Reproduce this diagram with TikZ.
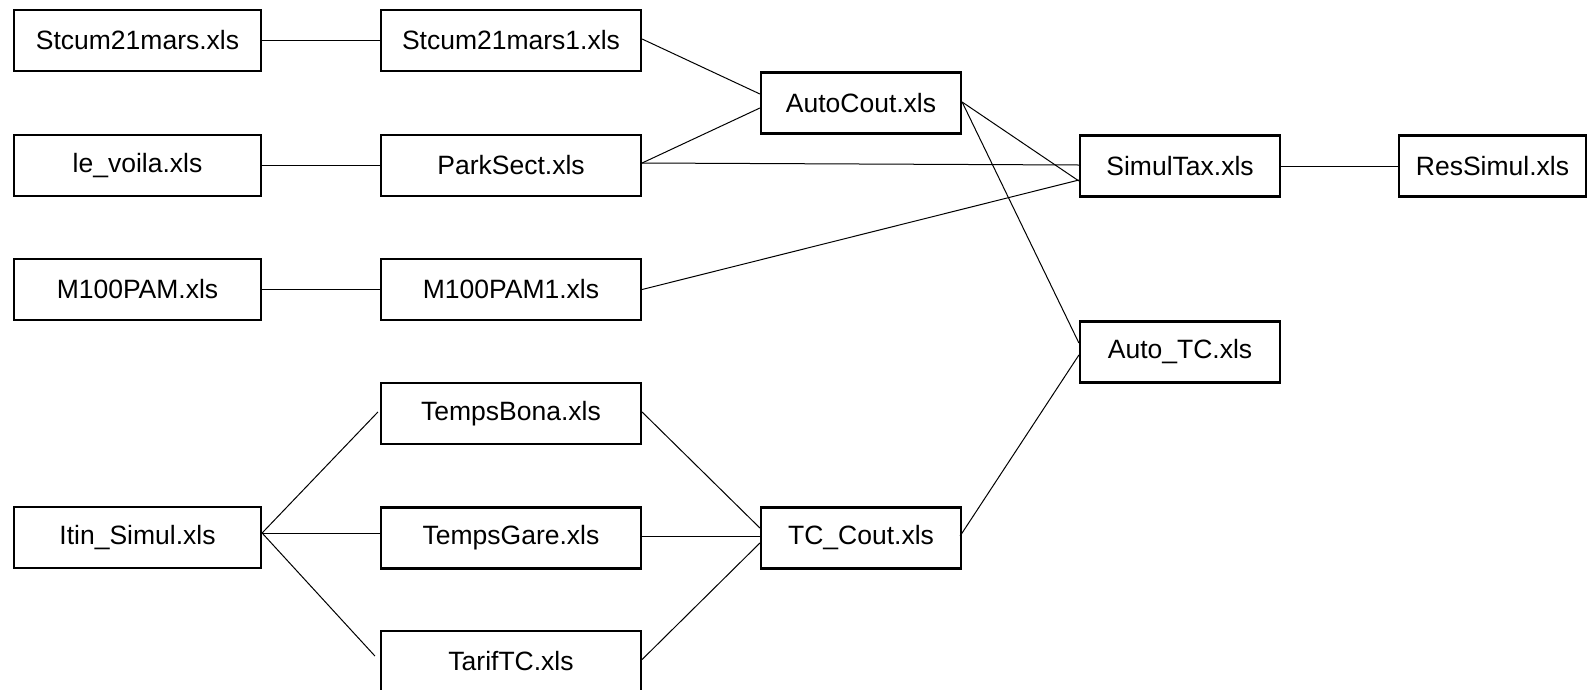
\documentclass[tikz,border=0pt]{standalone}
\usepackage{fontspec}
\setmainfont{Liberation Sans}
\begin{document}
\begin{tikzpicture}[x=1pt,y=-1pt,
  filebox/.style={draw=black,line width=2.2pt,minimum height=61pt,inner sep=0pt,
    font=\fontsize{26.5}{30}\selectfont,text=black},
  wA/.style={filebox,minimum width=247pt},
  wB/.style={filebox,minimum width=260pt},
  wC/.style={filebox,minimum width=200pt},
  wD/.style={filebox,minimum width=187pt},
  link/.style={draw=black,line width=1pt}]
\useasboundingbox (0,0) rectangle (1587,689);
\fill[white] (0,0) rectangle (1587,689);
% column 1
\node[wA] (s21) at (137.5,40.5) {Stcum21mars.xls};
\node[wA] (lev) at (137.5,165.5) {le\_voila.xls};
\node[wA] (m100) at (137.5,289.5) {M100PAM.xls};
\node[wA] (itin) at (137.5,537.5) {Itin\_Simul.xls};
% column 2
\node[wB] (s21b) at (511,40.5) {Stcum21mars1.xls};
\node[wB] (park) at (511,165.5) {ParkSect.xls};
\node[wB] (m100b) at (511,289.5) {M100PAM1.xls};
\node[wB] (tbona) at (511,413.5) {TempsBona.xls};
\node[wB] (tgare) at (511,538) {TempsGare.xls};
\node[wB] (tarif) at (511,661.5) {TarifTC.xls};
% column 3
\node[wC] (autoc) at (861,103) {AutoCout.xls};
\node[wC] (tcc) at (861,538) {TC\_Cout.xls};
% column 4
\node[wC] (simt) at (1180,166) {SimulTax.xls};
\node[wC] (autotc) at (1180,352) {Auto\_TC.xls};
% column 5
\node[wD] (ress) at (1492.5,166) {ResSimul.xls};
% connectors
\draw[link] (s21.east) -- (s21b.west);
\draw[link] (lev.east) -- (park.west);
\draw[link] (m100.east) -- (m100b.west);
\draw[link] ([yshift=1.5pt]s21b.east) -- ([yshift=9pt]autoc.west);
\draw[link] ([yshift=2.5pt]park.east) -- ([yshift=-5pt]autoc.west);
\draw[link] ([yshift=2.5pt]park.east) -- ([yshift=1pt]simt.west);
\draw[link] (m100b.east) -- ([yshift=-14pt]simt.west);
\draw[link] ([yshift=1pt]autoc.east) -- ([yshift=-15pt]simt.west);
\draw[link] ([yshift=1pt]autoc.east) -- ([yshift=9pt]autotc.west);
\draw[link] (simt.east) -- (ress.west);
\draw[link] ([xshift=-2pt,yshift=2pt]tcc.east) -- ([yshift=-3pt]autotc.west);
\draw[link] ([yshift=4.5pt]itin.east) -- ([xshift=-2pt,yshift=1.5pt]tbona.west);
\draw[link] ([yshift=4.5pt]itin.east) -- ([yshift=5pt]tgare.west);
\draw[link] ([yshift=4.5pt]itin.east) -- ([xshift=-5pt,yshift=5.5pt]tarif.west);
\draw[link] ([yshift=1.5pt]tbona.east) -- ([yshift=10pt]tcc.west);
\draw[link] ([yshift=2pt]tgare.east) -- ([yshift=2pt]tcc.west);
\draw[link] ([yshift=2pt]tarif.east) -- ([yshift=-5pt]tcc.west);
\end{tikzpicture}
\end{document}
